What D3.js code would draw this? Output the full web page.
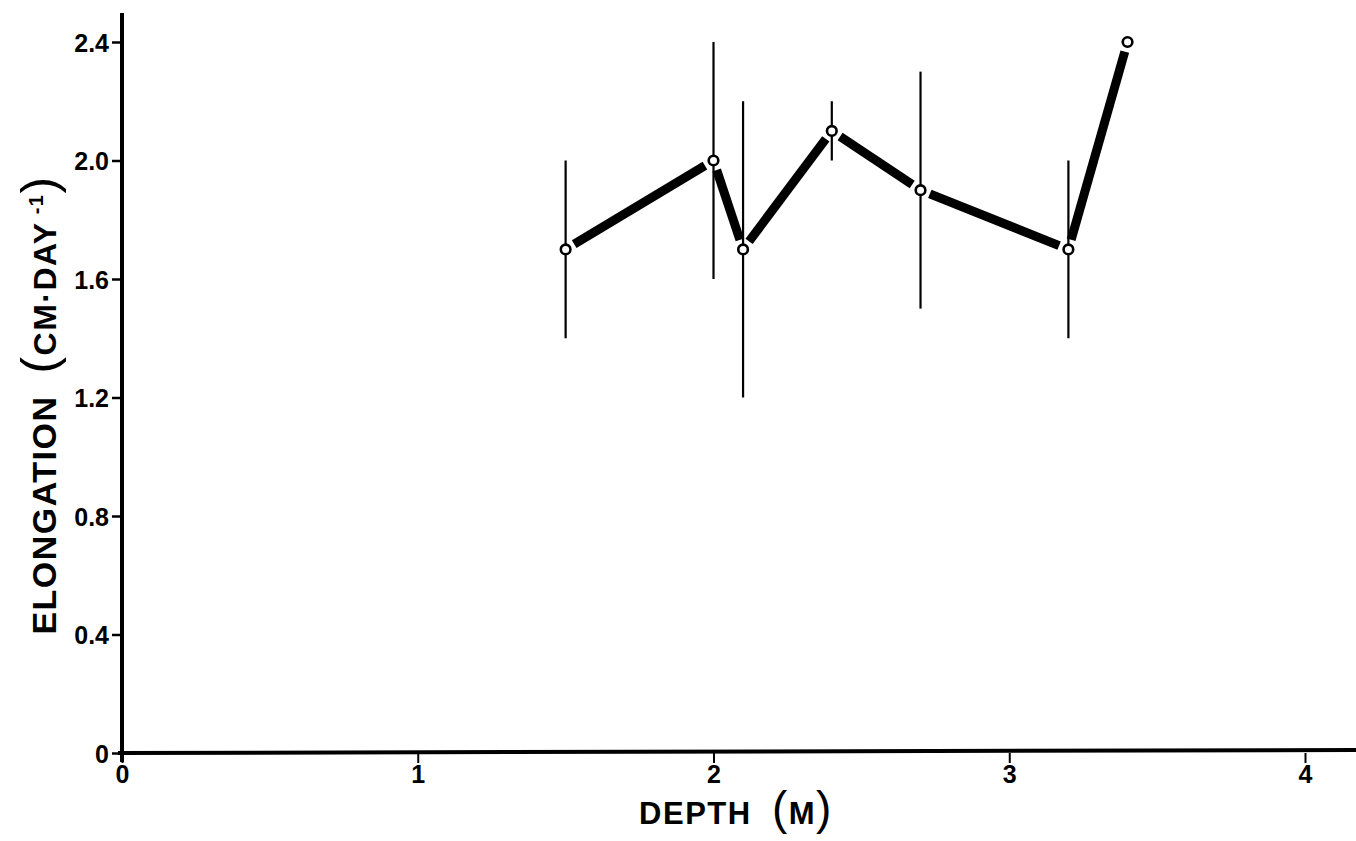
<!DOCTYPE html>
<html>
<head>
<meta charset="utf-8">
<script src="https://cdn.jsdelivr.net/npm/d3@7"></script>
<style>
  html, body { margin: 0; padding: 0; background: #fff; }
  svg { display: block; }
  text { font-family: "Liberation Sans", Arial, sans-serif; font-weight: bold; fill: #000; white-space: pre; }
</style>
</head>
<body>
<svg id="chart" width="1356" height="841"></svg>
<script>
// ---- data ----
const depth = [1.5, 2.0, 2.1, 2.4, 2.7, 3.2, 3.4];
const elongation = [1.7, 2.0, 1.7, 2.1, 1.9, 1.7, 2.4];
const errLow = [1.4, 1.6, 1.2, 2.0, 1.5, 1.4, null];
const errHigh = [2.0, 2.4, 2.2, 2.2, 2.3, 2.0, null];
const xTicks = [0, 1, 2, 3, 4];
const xTickLabels = ["0", "1", "2", "3", "4"];
const yTicks = [0, 0.4, 0.8, 1.2, 1.6, 2.0, 2.4];
const yTickLabels = ["0", "0.4", "0.8", "1.2", "1.6", "2.0", "2.4"];

const svg = d3.select("#chart");
const x = d3.scaleLinear().domain([0, 4]).range([122, 1305]);
const y = d3.scaleLinear().domain([0, 2.4]).range([753, 42]);

// axes lines
svg.append("line").attr("x1", x(0)).attr("x2", x(0)).attr("y1", 13).attr("y2", y(0) + 9)
  .attr("stroke", "#000").attr("stroke-width", 4);
svg.append("line").attr("x1", x(0) - 4).attr("x2", 1356).attr("y1", y(0)).attr("y2", y(0) - 3)
  .attr("stroke", "#000").attr("stroke-width", 4);

// y axis ticks
const yAxis = d3.axisLeft(y).tickValues(yTicks)
  .tickFormat((d, i) => yTickLabels[i]).tickSize(10).tickPadding(3);
const gy = svg.append("g").attr("transform", `translate(${x(0)},0)`).call(yAxis);
gy.select(".domain").remove();
gy.selectAll(".tick line").attr("stroke", "#000").attr("stroke-width", 2.5);
gy.selectAll(".tick text").style("font-size", "25px").style("font-family", "Liberation Sans, Arial, sans-serif")
  .style("font-weight", "bold").attr("fill", "#000").attr("dy", "0.36em");

// x axis ticks
const xAxis = d3.axisBottom(x).tickValues(xTicks)
  .tickFormat((d, i) => xTickLabels[i]).tickSize(10).tickPadding(2);
const gx = svg.append("g").attr("transform", `translate(0,${y(0)})`).call(xAxis);
gx.select(".domain").remove();
gx.selectAll(".tick line").attr("stroke", "#000").attr("stroke-width", 2);
gx.selectAll(".tick text").style("font-size", "25px").style("font-family", "Liberation Sans, Arial, sans-serif")
  .style("font-weight", "bold").attr("fill", "#000");

// axis titles
const xt = svg.append("text").attr("x", 736).attr("y", 824).attr("text-anchor", "middle")
  .style("font-size", "31px").style("letter-spacing", "1.5px");
xt.append("tspan").text("DEPTH  ");
xt.append("tspan").style("font-size", "46px").style("font-weight", "normal").text("(");
xt.append("tspan").text("M");
xt.append("tspan").style("font-size", "46px").style("font-weight", "normal").text(")");

const yt = svg.append("text").attr("transform", "translate(56,405) rotate(-90)")
  .attr("text-anchor", "middle").style("font-size", "34px").style("letter-spacing", "1.5px");
yt.append("tspan").text("ELONGATION  ");
yt.append("tspan").style("font-size", "50px").style("font-weight", "normal").text("(");
yt.append("tspan").style("font-size", "32px").text("CM·DAY");
yt.append("tspan").style("font-size", "20px").attr("dy", "-13").text(" -1");
yt.append("tspan").style("font-size", "50px").style("font-weight", "normal").attr("dy", "13").text(")");

// data
const pts = depth.map((d, i) => ({ d, e: elongation[i], lo: errLow[i], hi: errHigh[i] }));

// error bars
svg.append("g").selectAll("line").data(pts.filter(p => p.lo !== null)).join("line")
  .attr("x1", p => x(p.d)).attr("x2", p => x(p.d))
  .attr("y1", p => y(p.lo)).attr("y2", p => y(p.hi))
  .attr("stroke", "#000").attr("stroke-width", 2.2);

// thick segments with gaps at the markers
const gap = 10;
const segs = d3.pairs(pts).map(([a, b]) => {
  const x1 = x(a.d), y1 = y(a.e), x2 = x(b.d), y2 = y(b.e);
  const len = Math.hypot(x2 - x1, y2 - y1);
  const ux = (x2 - x1) / len, uy = (y2 - y1) / len;
  return { x1: x1 + ux * gap, y1: y1 + uy * gap, x2: x2 - ux * gap, y2: y2 - uy * gap };
});
svg.append("g").selectAll("line").data(segs).join("line")
  .attr("x1", s => s.x1).attr("y1", s => s.y1).attr("x2", s => s.x2).attr("y2", s => s.y2)
  .attr("stroke", "#000").attr("stroke-width", 9).attr("stroke-linecap", "butt");

// markers
svg.append("g").selectAll("circle").data(pts).join("circle")
  .attr("cx", p => x(p.d)).attr("cy", p => y(p.e)).attr("r", 4.8)
  .attr("fill", "#fff").attr("stroke", "#000").attr("stroke-width", 2.6);
</script>
</body>
</html>
